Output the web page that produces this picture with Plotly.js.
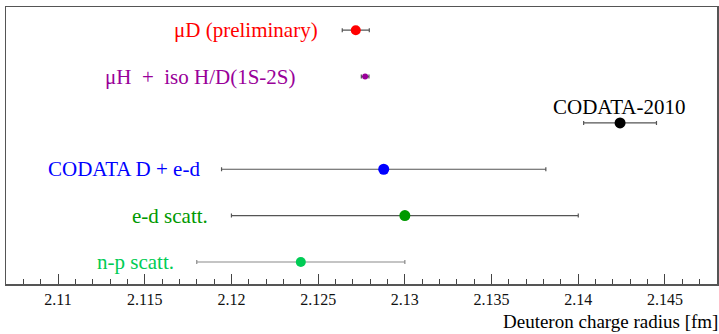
<!DOCTYPE html>
<html>
<head>
<meta charset="utf-8">
<script src="https://cdn.plot.ly/plotly-3.0.1.min.js"></script>
<style>html,body{margin:0;padding:0;background:#fff;}#chart{width:719px;height:334px;}</style>
</head>
<body>
<div id="chart"></div>
<script>
// Data
const labels = ["μD (preliminary)", "μH  +  iso H/D(1S-2S)", "CODATA-2010", "CODATA D + e-d", "e-d scatt.", "n-p scatt."];
const radius = [2.12717, 2.12771, 2.14241, 2.12878, 2.1300, 2.1240];
const radiusErr = [0.00078, 0.00022, 0.00210, 0.00935, 0.0100, 0.0060];
const rowPos = [6, 5, 4, 3, 2, 1];
const tickValues = [2.11, 2.115, 2.12, 2.125, 2.13, 2.135, 2.14, 2.145];
const tickLabels = ["2.11", "2.115", "2.12", "2.125", "2.13", "2.135", "2.14", "2.145"];

// Styles
const colors = ["#ff0000", "#990099", "#000000", "#0000ff", "#009900", "#00cc55"];
const markerSizes = [10, 6, 11, 11, 11, 10];
const errColors = ["#555555", "#555555", "#555555", "#555555", "#555555", "#8a8a8a"];
// label anchors (data coords): x, y, xanchor
const labelPlace = [
  [2.12512, 6, "right"],
  [2.12385, 5, "right"],
  [2.14235, 4.345, "center"],
  [2.11831, 3, "right"],
  [2.11878, 2, "right"],
  [2.11681, 1, "right"]
];

const traces = radius.map((r, i) => ({
  type: "scatter",
  mode: "markers",
  x: [r],
  y: [rowPos[i]],
  marker: {color: colors[i], size: markerSizes[i]},
  error_x: {type: "data", array: [radiusErr[i]], color: errColors[i], thickness: 1.2, width: 2},
  showlegend: false,
  hoverinfo: "x"
}));

const serif = "'Times New Roman', Times, 'Liberation Serif', 'DejaVu Serif', serif";
const annotations = labels.map((t, i) => ({
  text: t,
  x: labelPlace[i][0],
  y: labelPlace[i][1],
  xref: "x", yref: "y",
  xanchor: labelPlace[i][2],
  yanchor: "middle",
  showarrow: false,
  font: {family: serif, size: 21, color: colors[i]}
}));
annotations.push({
  text: "Deuteron charge radius [fm]",
  xref: "paper", yref: "paper",
  x: 1.004, y: -0.137,
  xanchor: "right", yanchor: "middle",
  showarrow: false,
  font: {family: serif, size: 19, color: "#000"}
});

const layout = {
  width: 719, height: 334,
  margin: {l: 6, r: 2, t: 7, b: 50},
  paper_bgcolor: "#fff", plot_bgcolor: "#fff",
  showlegend: false,
  font: {family: serif},
  xaxis: {
    range: [2.107, 2.148],
    tickvals: tickValues,
    ticktext: tickLabels,
    ticks: "inside",
    ticklen: 10,
    tickwidth: 1,
    tickcolor: "#444",
    minor: {dtick: 0.001, tick0: 2.11, ticks: "inside", ticklen: 5, tickcolor: "#444", tickwidth: 1, showgrid: false},
    showgrid: false,
    zeroline: false,
    showline: true,
    mirror: true,
    linecolor: "#555",
    linewidth: 1.5,
    tickfont: {family: serif, size: 16, color: "#111"}
  },
  yaxis: {
    range: [0.525, 6.5],
    showticklabels: false,
    ticks: "",
    showgrid: false,
    zeroline: false,
    showline: true,
    mirror: true,
    linecolor: "#555",
    linewidth: 1.5
  },
  annotations: annotations
};

Plotly.newPlot("chart", traces, layout, {displayModeBar: false, staticPlot: true});
</script>
</body>
</html>
